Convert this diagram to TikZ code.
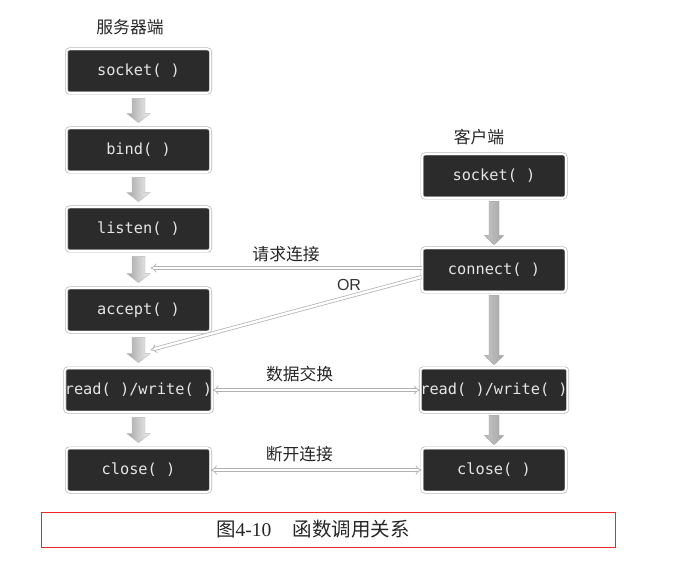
\documentclass[tikz,border=0pt]{standalone}
\usepackage{fontspec}
\setmainfont{Liberation Serif}
\setsansfont{Liberation Sans}
\newfontfamily\codefont{DejaVu Sans Mono}
\newfontfamily\cjkfont{Noto Sans CJK SC}
\usetikzlibrary{arrows.meta,calc,positioning}
\definecolor{boxdark}{rgb}{0.17,0.17,0.17}
\definecolor{capred}{rgb}{0.93,0.15,0.15}

% fat arrow between two boxes: style, from, to, top gap, bottom gap, shaft half width, head half width
\newcommand{\blockarrow}[7]{%
  \path[#1] let \p1=(#2.south), \p2=(#3.north) in
    (\x1-#6,\y1-#4) -- (\x1+#6,\y1-#4) -- (\x1+#6,\y2+#5+9pt) -- (\x1+#7,\y2+#5+9pt)
    -- (\x1,\y2+#5) -- (\x1-#7,\y2+#5+9pt) -- (\x1-#6,\y2+#5+9pt) -- cycle;}

\tikzset{
  func/.style={draw=gray!55, double=white, double distance=1.6pt, line width=0.7pt,
    fill=boxdark, rounded corners=3pt, minimum width=144pt, minimum height=44pt,
    inner sep=0pt, text=white!90!black, font=\codefont\fontsize{15.3}{18}\selectfont},
  side/.style={font=\cjkfont\fontsize{16.8}{20}\selectfont, text=black!85},
  link/.style={draw=gray!60, double=white, double distance=2.4pt, line width=0.75pt, -{Implies}},
  linkboth/.style={link, {Implies}-{Implies}},
  srvarrow/.style={draw=gray!55, left color=gray!70, right color=gray!12},
  cliarrow/.style={draw=gray!75, left color=gray!45, right color=gray!70},
}

\begin{document}
\begin{tikzpicture}[x=1pt,y=1pt]
  \useasboundingbox (0,0) rectangle (673,-567);
  % Server side
  \node[side] (srvtitle) at (130,-27) {服务器端};
  \node[func] (ssocket) at (138.5,-71) {socket( )};
  \node[func] (sbind) at (138.5,-150) {bind( )};
  \node[func] (slisten) at (138.5,-229) {listen( )};
  \node[func] (saccept) at (138.5,-310) {accept( )};
  \node[func] (sread) at (138.5,-390) {read( )/write( )};
  \node[func] (sclose) at (138.5,-470) {close( )};
  % Client side
  \node[side] (clititle) at (479,-137) {客户端};
  \node[func] (csocket) at (494,-176) {socket( )};
  \node[func] (cconnect) at (494,-270) {connect( )};
  \node[func] (cread) at (494,-390) {read( )/write( )};
  \node[func] (cclose) at (494,-470) {close( )};
  % Server flow
  \blockarrow{srvarrow}{ssocket}{sbind}{5pt}{5pt}{6.5pt}{11.5pt}
  \blockarrow{srvarrow}{sbind}{slisten}{5pt}{5pt}{6.5pt}{11.5pt}
  \blockarrow{srvarrow}{slisten}{saccept}{5pt}{5pt}{6.5pt}{11.5pt}
  \blockarrow{srvarrow}{saccept}{sread}{5pt}{5pt}{6.5pt}{11.5pt}
  \blockarrow{srvarrow}{sread}{sclose}{5pt}{5pt}{6.5pt}{11.5pt}
  % Client flow
  \blockarrow{cliarrow}{csocket}{cconnect}{3pt}{3pt}{5pt}{9.5pt}
  \blockarrow{cliarrow}{cconnect}{cread}{3pt}{3pt}{5pt}{9.5pt}
  \blockarrow{cliarrow}{cread}{cclose}{3pt}{3pt}{5pt}{9.5pt}
  % Connection requests
  \coordinate (reqfrom1) at ([yshift=2pt]cconnect.west);
  \coordinate (reqfrom2) at ([yshift=-7pt]cconnect.west);
  \coordinate (req1) at ([xshift=12pt]$(slisten.south)!0.5!(saccept.north)$);
  \coordinate (req2) at ([xshift=12pt]$(saccept.south)!0.5!(sread.north)$);
  \draw[link] (reqfrom1) -- (req1 |- reqfrom1)
    node[pos=0.5, above=2pt, side] (reqlabel) {请求连接};
  \draw[link] (reqfrom2) -- (req2);
  \node[font=\sffamily\fontsize{16}{19}\selectfont, text=black!80] (orlabel) at (349,-285) {OR};
  % Data exchange and close
  \draw[linkboth] (sread.east) -- (cread.west)
    node[pos=0.42, above=4pt, side] (datalabel) {数据交换};
  \draw[linkboth] (sclose.east) -- (cclose.west)
    node[pos=0.42, above=4pt, side] (closelabel) {断开连接};
  % Caption
  \draw[capred, line width=0.8pt] (41,-512) rectangle (615,-547);
  \node[font=\fontsize{19.5}{23}\selectfont, text=black!85] (caption) at (313,-529)
    {{\cjkfont 图}4-10\hspace{1.1em}{\cjkfont 函数调用关系}};
\end{tikzpicture}
\end{document}
